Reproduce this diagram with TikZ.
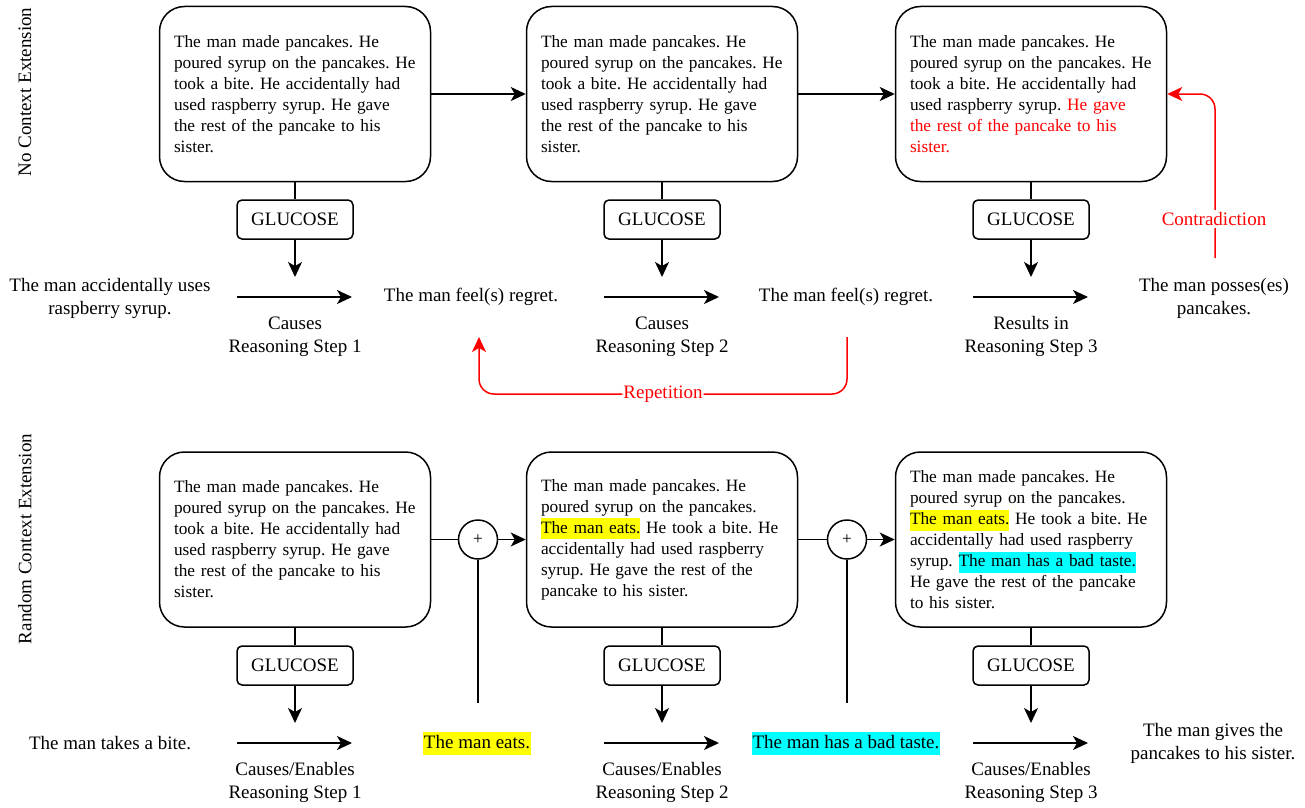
\documentclass[tikz,border=0pt]{standalone}
\usepackage{fontspec}
\setmainfont{Liberation Serif}
\usetikzlibrary{arrows.meta}
\frenchspacing

\newcommand\boxfont{\fontsize{17.3bp}{21bp}\selectfont}
\newcommand\labelfont{\fontsize{19bp}{23bp}\selectfont}
\newcommand\hlbox[2]{{\setlength{\fboxsep}{0pt}\colorbox{#1}{\strut #2}}}

\begin{document}
\begin{tikzpicture}[x=1bp, y=-1bp,
    ctxbox/.style={draw, line width=1.5bp, rounded corners=25bp, minimum width=271bp,
      minimum height=175bp, text width=242bp, align=left, font=\boxfont},
    gbox/.style={draw, line width=1.5bp, rounded corners=5bp, minimum width=116bp,
      minimum height=39bp, font=\labelfont},
    event/.style={align=center, font=\labelfont},
    steplabel/.style={align=center, font=\labelfont},
    hlevent/.style={font=\labelfont, inner xsep=1bp, inner ysep=1.5bp, text height=15bp, text depth=5bp},
    plusnode/.style={draw, circle, line width=1.5bp, minimum size=39bp, inner sep=0pt, font=\boxfont},
    link/.style={line width=1.5bp},
    arr/.style={line width=1.5bp, -{Stealth[length=15bp, width=14bp, inset=4bp]}},
  ]
    % Define colors
    \definecolor{hlyellow}{rgb}{1, 1, 0}
    \definecolor{hlcyan}{rgb}{0, 1, 1}
    \definecolor{warnred}{rgb}{1, 0, 0}

    % Fix the page size
    \useasboundingbox (0,0) rectangle (1305,807);

    % Define a macro for one GLUCOSE step below a context box
    \def\drawStep#1#2#3#4{ % #1 = name, #2 = x, #3 = row offset, #4 = relation label
      \node[gbox] (g#1) at (#2,{#3+219.5}) {GLUCOSE};
      \draw[link] (ctx#1) -- (g#1);
      \coordinate (tip#1) at (#2,{#3+277});
      \draw[arr] (g#1) -- (tip#1);
      \coordinate (from#1) at ({#2-58},{#3+297});
      \coordinate (to#1) at ({#2+57},{#3+297});
      \draw[arr] (from#1) -- (to#1);
      \node[steplabel] (lab#1) at (#2,{#3+336.5}) {#4};
    }

    % Row labels
    \node[rotate=90, font=\labelfont] (rowA) at (25,92) {No Context Extension};
    \node[rotate=90, font=\labelfont] (rowB) at (25,539) {Random Context Extension};

    % No context extension: context boxes
    \node[ctxbox] (ctxA1) at (295,94) {The man made pancakes. He\\poured syrup on the pancakes. He\\took a bite. He accidentally had\\used raspberry syrup. He gave\\the rest of the pancake to his\\sister.};
    \node[ctxbox] (ctxA2) at (662,94) {The man made pancakes. He\\poured syrup on the pancakes. He\\took a bite. He accidentally had\\used raspberry syrup. He gave\\the rest of the pancake to his\\sister.};
    \node[ctxbox] (ctxA3) at (1031,94) {The man made pancakes. He\\poured syrup on the pancakes. He\\took a bite. He accidentally had\\used raspberry syrup. \textcolor{warnred}{He gave}\\\textcolor{warnred}{the rest of the pancake to his}\\\textcolor{warnred}{sister.}};
    \draw[arr] (ctxA1) -- (ctxA2);
    \draw[arr] (ctxA2) -- (ctxA3);

    % No context extension: reasoning steps
    \drawStep{A1}{295}{0}{Causes\\Reasoning Step 1}
    \drawStep{A2}{662}{0}{Causes\\Reasoning Step 2}
    \drawStep{A3}{1031}{0}{Results in\\Reasoning Step 3}

    % No context extension: events
    \node[event] (evA0) at (110,298) {The man accidentally uses\\raspberry syrup.};
    \node[event] (evA1) at (471,297) {The man feel(s) regret.};
    \node[event] (evA2) at (846,297) {The man feel(s) regret.};
    \node[event] (evA3) at (1214,298) {The man posses(es)\\pancakes.};

    % Repetition and contradiction
    \coordinate (repS) at (847,337);
    \coordinate (repE) at (479,337);
    \draw[arr, warnred, rounded corners=15bp] (repS) -- (847,394)
      -- node[fill=white, font=\labelfont, inner sep=1bp] (repL) {Repetition} (479,394) -- (repE);
    \coordinate (conS) at (1215,258);
    \draw[arr, warnred, rounded corners=15bp] (conS) |- (ctxA3.east);
    \node[fill=white, text=warnred, font=\labelfont, inner sep=2bp] (conL) at (1214,219) {Contradiction};

    % Random context extension: context boxes
    \node[ctxbox] (ctxB1) at (295,539.5) {The man made pancakes. He\\poured syrup on the pancakes. He\\took a bite. He accidentally had\\used raspberry syrup. He gave\\the rest of the pancake to his\\sister.};
    \node[ctxbox] (ctxB2) at (662,539.5) {The man made pancakes. He\\poured syrup on the pancakes.\\\hlbox{hlyellow}{The man eats.} He took a bite. He\\accidentally had used raspberry\\syrup. He gave the rest of the\\pancake to his sister.};
    \node[ctxbox] (ctxB3) at (1031,539.5) {The man made pancakes. He\\poured syrup on the pancakes.\\\hlbox{hlyellow}{The man eats.} He took a bite. He\\accidentally had used raspberry\\syrup. \hlbox{hlcyan}{The man has a bad taste.}\\He gave the rest of the pancake\\to his sister.};

    % Random context extension: added sentences
    \node[plusnode] (sumB1) at (478,539.5) {+};
    \node[plusnode] (sumB2) at (847,539.5) {+};
    \draw[link] (ctxB1) -- (sumB1);
    \draw[arr] (sumB1) -- (ctxB2);
    \draw[link] (ctxB2) -- (sumB2);
    \draw[arr] (sumB2) -- (ctxB3);
    \coordinate (footB1) at (478,703);
    \coordinate (footB2) at (847,703);
    \draw[link] (sumB1) -- (footB1);
    \draw[link] (sumB2) -- (footB2);

    % Random context extension: reasoning steps
    \drawStep{B1}{295}{446}{Causes/Enables\\Reasoning Step 1}
    \drawStep{B2}{662}{446}{Causes/Enables\\Reasoning Step 2}
    \drawStep{B3}{1031}{446}{Causes/Enables\\Reasoning Step 3}

    % Random context extension: events
    \node[event] (evB0) at (110,743) {The man takes a bite.};
    \node[hlevent, fill=hlyellow] (evB1) at (477,743.5) {The man eats.};
    \node[hlevent, fill=hlcyan] (evB2) at (846,743.5) {The man has a bad taste.};
    \node[event] (evB3) at (1213,743) {The man gives the\\pancakes to his sister.};
  \end{tikzpicture}
\end{document}
